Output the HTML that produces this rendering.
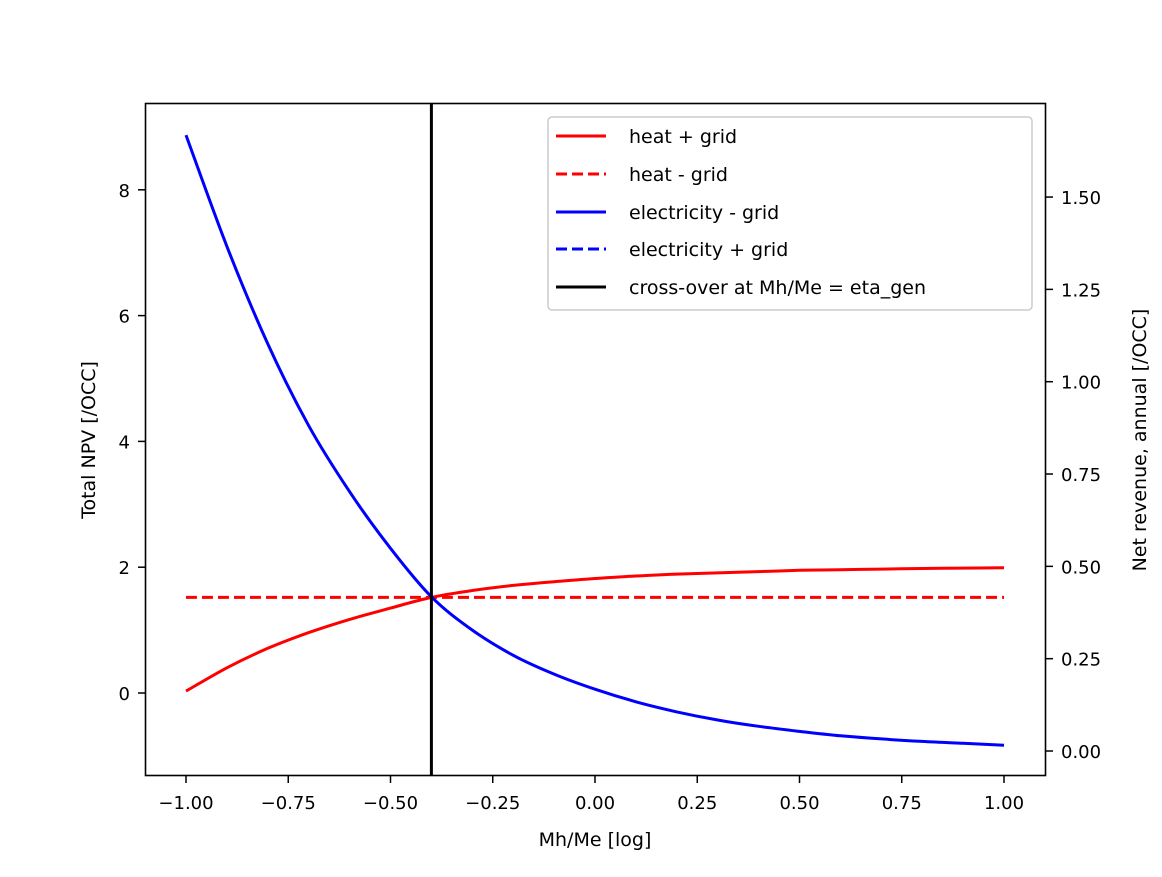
<!DOCTYPE html>
<html><head><meta charset="utf-8"><style>
body{margin:0;background:#fff;}
svg text{font-family:"DejaVu Sans","Liberation Sans",sans-serif;fill:#000;}
</style></head><body>
<svg id="chart" width="1162" height="872" xmlns="http://www.w3.org/2000/svg">
<rect x="0" y="0" width="1162" height="872" fill="#fff"/>
<g id="marks"></g>
<rect x="145.5" y="103.5" width="900" height="672" fill="none" stroke="#000" stroke-width="1.6"/>
<g id="axes"></g>
<g>
<rect x="548" y="117" width="484" height="193" rx="4" fill="#fff" fill-opacity="0.85" stroke="#ccc" stroke-width="1.5"/>
<line x1="556" y1="136" x2="606" y2="136" stroke="#f00" stroke-width="3"/>
<text x="629" y="143" font-size="19">heat + grid</text>
<line x1="556" y1="174" x2="606" y2="174" stroke="#f00" stroke-width="3" stroke-dasharray="11,5"/>
<text x="629" y="181" font-size="19">heat - grid</text>
<line x1="556" y1="212" x2="606" y2="212" stroke="#00f" stroke-width="3"/>
<text x="629" y="219" font-size="19">electricity - grid</text>
<line x1="556" y1="249" x2="606" y2="249" stroke="#00f" stroke-width="3" stroke-dasharray="11,5"/>
<text x="629" y="256" font-size="19">electricity + grid</text>
<line x1="556" y1="287" x2="606" y2="287" stroke="#000" stroke-width="3"/>
<text x="629" y="294" font-size="19">cross-over at Mh/Me = eta_gen</text>
</g>
<text x="595" y="846" font-size="19" text-anchor="middle">Mh/Me [log]</text>
<text transform="translate(95,440) rotate(-90)" font-size="19" text-anchor="middle">Total NPV [/OCC]</text>
<text transform="translate(1146,440) rotate(-90)" font-size="19" text-anchor="middle">Net revenue, annual [/OCC]</text>
</svg>
<script>
const xValues=[-1,-0.9,-0.8,-0.7,-0.6,-0.5,-0.4,-0.3,-0.2,-0.1,0,0.1,0.2,0.3,0.4,0.5,0.6,0.7,0.8,0.9,1];
const heatPlusGrid=[0.03,0.40,0.71,0.96,1.17,1.35,1.52,1.63,1.71,1.77,1.82,1.86,1.89,1.91,1.93,1.95,1.96,1.97,1.98,1.985,1.99];
const heatMinusGrid=[1.52,1.52];
const heatMinusGridX=[-1,1];
const electricityMinusGrid=[8.87,7.10,5.55,4.25,3.20,2.30,1.53,1.00,0.60,0.30,0.06,-0.14,-0.30,-0.43,-0.53,-0.61,-0.68,-0.73,-0.77,-0.80,-0.83];
const crossOverX=[-0.4];
const xTicks=[-1,-0.75,-0.5,-0.25,0,0.25,0.5,0.75,1];
const yLeftTicks=[0,2,4,6,8];
const yRightTicks=[0,0.25,0.5,0.75,1,1.25,1.5];
const NS="http://www.w3.org/2000/svg";
const xs=v=>186+(v+1)*409;
const yl=v=>693-v*62.9;
const yr=v=>751-v*369.3;
const marks=document.getElementById('marks'),axes=document.getElementById('axes');
function mk(t,a,p){const e=document.createElementNS(NS,t);for(const k in a)e.setAttribute(k,a[k]);p.appendChild(e);return e;}
function path(xa,ya,color,dash,name){
 const P=xa.map((x,i)=>[xs(x),yl(ya[i])]);
 let d='M'+P[0][0].toFixed(1)+','+P[0][1].toFixed(1);
 for(let i=0;i<P.length-1;i++){
  const p0=P[i-1]||P[i],p1=P[i],p2=P[i+1],p3=P[i+2]||P[i+1];
  const c1=[p1[0]+(p2[0]-p0[0])/6,p1[1]+(p2[1]-p0[1])/6];
  const c2=[p2[0]-(p3[0]-p1[0])/6,p2[1]-(p3[1]-p1[1])/6];
  d+=' C'+c1.map(n=>n.toFixed(1)).join(',')+' '+c2.map(n=>n.toFixed(1)).join(',')+' '+p2.map(n=>n.toFixed(1)).join(',');
 }
 const e=mk('path',{d:d,fill:'none',stroke:color,'stroke-width':3},marks);
 if(dash)e.setAttribute('stroke-dasharray',dash);
 
 
}
path(heatMinusGridX,heatMinusGrid,'#f00','11,5','heat-minus-grid-line');
path(xValues,heatPlusGrid,'#f00',null,'heat-plus-grid-line');
path(xValues,electricityMinusGrid,'#00f',null,'electricity-minus-grid-line');
crossOverX.forEach(v=>{
 const l=mk('line',{x1:xs(v),x2:xs(v),y1:103,y2:776,stroke:'#000','stroke-width':3},marks);
 
 
});
xTicks.forEach(v=>{
 const x=xs(v);
 mk('line',{x1:x,x2:x,y1:776,y2:783,stroke:'#000','stroke-width':1.5},axes);
 const t=mk('text',{x:x,y:809,'font-size':18,'text-anchor':'middle'},axes);
 t.textContent=(v<0?'\u2212':'')+Math.abs(v).toFixed(2);
 
 
});
yLeftTicks.forEach(v=>{
 const y=yl(v);
 mk('line',{x1:138,x2:145,y1:y,y2:y,stroke:'#000','stroke-width':1.5},axes);
 const t=mk('text',{x:130,y:y+7,'font-size':18,'text-anchor':'end'},axes);
 t.textContent=String(v);
 
 
});
yRightTicks.forEach(v=>{
 const y=yr(v);
 mk('line',{x1:1046,x2:1053,y1:y,y2:y,stroke:'#000','stroke-width':1.5},axes);
 const t=mk('text',{x:1061,y:y+7,'font-size':18},axes);
 t.textContent=v.toFixed(2);
 
 
});
</script>
</body></html>
